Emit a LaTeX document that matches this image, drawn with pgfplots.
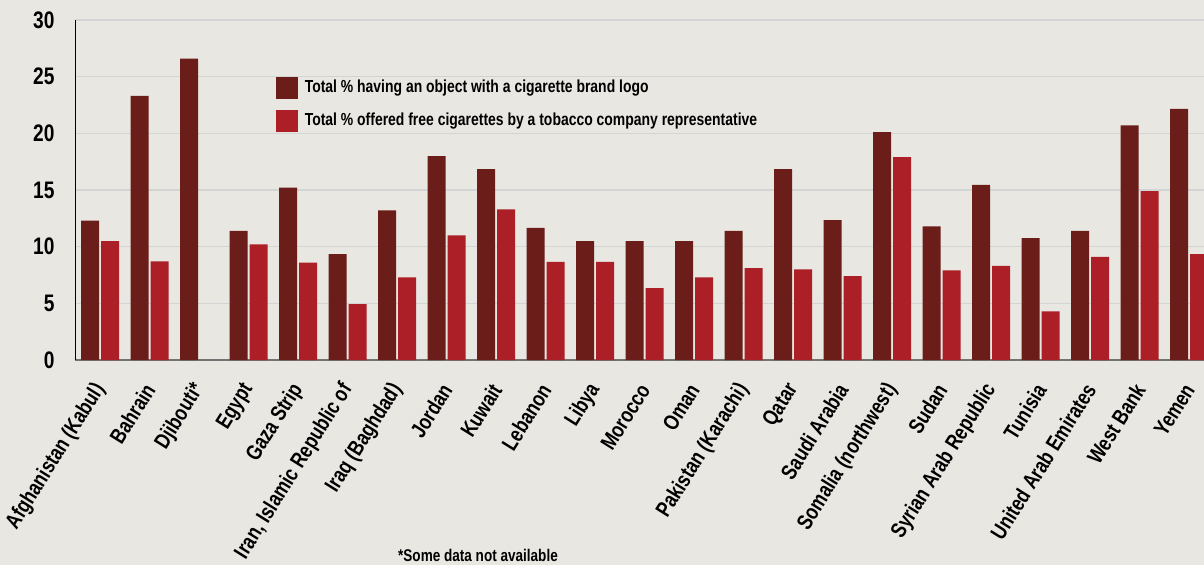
\documentclass[border=0pt]{standalone}
\usepackage{pgfplots}
\pgfplotsset{compat=1.18}
\usepackage{fontspec}
\setmainfont{Liberation Sans}[FakeStretch=0.8]

\definecolor{bgc}{HTML}{E9E7E2}
\definecolor{logo}{HTML}{6B1D19}
\definecolor{offer}{HTML}{AC1F26}
\definecolor{gridc}{HTML}{D3D5D4}

\begin{document}
\begin{tikzpicture}
\fill[bgc] (-75bp,-205bp) rectangle (1129bp,360bp);
\begin{axis}[
    at={(0,0)}, anchor=south west,
    scale only axis,
    width=1129bp, height=340bp,
    xmin=-0.505, xmax=22.3,
    ymin=0, ymax=30,
    ybar=2bp, bar width=18bp,
    axis lines*=left,
    x axis line style={draw=black!55, line width=2bp},
    y axis line style={draw=black, line width=0.8bp},
    major tick length=0pt,
    ytick={0,5,...,30},
    ymajorgrids=true,
    grid style={gridc, line width=1.3bp},
    xtick={0,...,22},
    xticklabels={Afghanistan (Kabul), Bahrain, Djibouti*, Egypt, Gaza Strip,
        {Iran, Islamic Republic of}, Iraq (Baghdad), Jordan, Kuwait, Lebanon,
        Libya, Morocco, Oman, Pakistan (Karachi), Qatar, Saudi Arabia,
        Somalia (northwest), Sudan, Syrian Arab Republic, Tunisia,
        United Arab Emirates, West Bank, Yemen},
    /pgf/number format/assume math mode=true,
    yticklabel style={font=\fontsize{24}{24}\selectfont\bfseries, xshift=-17bp},
    xticklabel style={font=\fontsize{22}{22}\selectfont\bfseries,
        xshift=2bp, yshift=-23bp, rotate=58, anchor=east},
    legend style={at={(0.175,0.84)}, anchor=north west, draw=none, fill=none,
        font=\fontsize{17.5}{17.5}\selectfont\bfseries, row sep=11bp,
        nodes={text height=12bp, text depth=3bp},
        /tikz/every odd column/.append style={column sep=5bp}},
    legend cell align=left,
    legend image code/.code={\fill[#1] (0bp,-11bp) rectangle (22bp,11bp);},
]
\addplot[fill=logo, draw=none] coordinates {
    (0,12.3) (1,23.3) (2,26.6) (3,11.4) (4,15.2) (5,9.35) (6,13.2) (7,18.0)
    (8,16.85) (9,11.65) (10,10.5) (11,10.5) (12,10.5) (13,11.4) (14,16.85)
    (15,12.35) (16,20.1) (17,11.8) (18,15.45) (19,10.75) (20,11.4) (21,20.7)
    (22,22.15)
};
\addlegendentry{Total \% having an object with a cigarette brand logo}
\addplot[fill=offer, draw=none] coordinates {
    (0,10.5) (1,8.7) (3,10.2) (4,8.6) (5,4.94) (6,7.3) (7,11.0)
    (8,13.3) (9,8.65) (10,8.65) (11,6.35) (12,7.3) (13,8.1) (14,8.0)
    (15,7.4) (16,17.9) (17,7.9) (18,8.3) (19,4.3) (20,9.1) (21,14.9)
    (22,9.35)
};
\addlegendentry{Total \% offered free cigarettes by a tobacco company representative}
\end{axis}
\node[anchor=base, font=\fontsize{17}{17}\selectfont\bfseries] at (403bp,-201bp) {*Some data not available};
\pgfresetboundingbox
\path[use as bounding box] (-75bp,-205bp) rectangle (1129bp,360bp);
\end{tikzpicture}
\end{document}
